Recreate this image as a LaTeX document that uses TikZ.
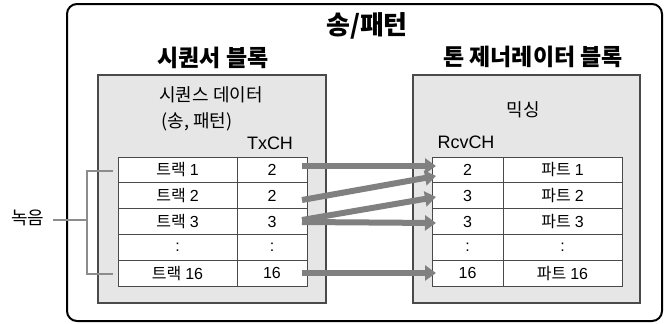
\documentclass[tikz,border=0pt]{standalone}
\usepackage{fontspec}
\setmainfont{Noto Sans CJK KR}
\newfontfamily\lat{Liberation Sans}
\newcommand{\gapnum}[1]{\hspace{4pt}{\lat #1}}
\usetikzlibrary{arrows.meta,calc}
\definecolor{boxgray}{HTML}{E6E6E7}
\definecolor{edgegray}{HTML}{4A4A4A}
\definecolor{arrgray}{HTML}{808080}
\definecolor{brgray}{HTML}{8C8C8C}
\begin{document}
\begin{tikzpicture}[x=1pt,y=-1pt,
  cellbox/.style={draw=edgegray,line width=0.9pt,fill=white,inner sep=0pt,
    minimum height=25.8pt,font=\fontsize{16}{17}\selectfont,anchor=center},
  wide/.style={cellbox,minimum width=119pt},
  narrow/.style={cellbox,minimum width=70pt},
  block/.style={draw=edgegray,line width=1.1pt,fill=boxgray},
  title/.style={font=\bfseries\fontsize{23}{24}\selectfont,inner sep=0pt},
  lbl/.style={font=\fontsize{18}{19}\selectfont,inner sep=0pt},
  bigarrow/.style={draw=arrgray,line width=6pt,-{Triangle[length=11pt,width=15pt]}},
  bracket/.style={draw=brgray,line width=2pt}]
\useasboundingbox (0,0) rectangle (665,324);
% outer frame
\draw[line width=2pt,rounded corners=10pt] (67,4) rectangle (662,321);
\node[title,font=\bfseries\fontsize{26}{27}\selectfont] (song) at (367,26) {송/패턴};
\node[title] (seqt) at (213,58) {시퀀서 블록};
\node[title] (tgt) at (533,57) {톤 제너레이터 블록};
% blocks
\draw[block] (98,75) rectangle (326,303);
\draw[block] (413,75) rectangle (640,303);
\node[lbl] (seqd) at (211,95) {시퀀스 데이터};
\node[lbl] (sp) at (197,122) {(송, 패턴)};
\node[lbl] (tx) at (270,143) {\lat TxCH};
\node[lbl] (mix) at (523,110) {믹싱};
\node[lbl] (rcv) at (466,142) {\lat RcvCH};
% left table
\node[wide]   (L1a) at (177.5,169.9) {트랙\gapnum{1}};
\node[narrow] (L1b) at (272,169.9) {\lat 2};
\node[wide]   (L2a) at (177.5,195.7) {트랙\gapnum{2}};
\node[narrow] (L2b) at (272,195.7) {\lat 2};
\node[wide]   (L3a) at (177.5,221.5) {트랙\gapnum{3}};
\node[narrow] (L3b) at (272,221.5) {\lat 3};
\node[wide]   (L4a) at (177.5,247.3) {\lat :};
\node[narrow] (L4b) at (272,247.3) {\lat :};
\node[wide]   (L5a) at (177.5,273.1) {트랙\gapnum{16}};
\node[narrow] (L5b) at (272,273.1) {\lat 16};
% right table
\node[narrow,minimum width=71pt] (R1a) at (467.5,169.9) {\lat 2};
\node[wide]   (R1b) at (562.5,169.9) {파트\gapnum{1}};
\node[narrow,minimum width=71pt] (R2a) at (467.5,195.7) {\lat 3};
\node[wide]   (R2b) at (562.5,195.7) {파트\gapnum{2}};
\node[narrow,minimum width=71pt] (R3a) at (467.5,221.5) {\lat 3};
\node[wide]   (R3b) at (562.5,221.5) {파트\gapnum{3}};
\node[narrow,minimum width=71pt] (R4a) at (467.5,247.3) {\lat :};
\node[wide]   (R4b) at (562.5,247.3) {\lat :};
\node[narrow,minimum width=71pt] (R5a) at (467.5,273.1) {\lat 16};
\node[wide]   (R5b) at (562.5,273.1) {파트\gapnum{16}};
% arrow ends
\coordinate (a1s) at (302,166);  \coordinate (a1e) at (436,166);
\coordinate (a2s) at (302,200);  \coordinate (a2e) at (436,176);
\coordinate (a3s) at (302,220);  \coordinate (a3e) at (436,197);
\coordinate (a4s) at (302,222);  \coordinate (a4e) at (436,223);
\coordinate (a5s) at (302,273);  \coordinate (a5e) at (436,273);
\draw[bigarrow] (a1s) -- (a1e);
\draw[bigarrow] (a2s) -- (a2e);
\draw[bigarrow] (a3s) -- (a3e);
\draw[bigarrow] (a4s) -- (a4e);
\draw[bigarrow] (a5s) -- (a5e);
% recording bracket
\node[lbl] (rec) at (28,218) {녹음};
\coordinate (bt) at (113,171);
\coordinate (bb) at (113,274);
\coordinate (bm) at (87,220);
\draw[bracket] (bt) -- (87,171) -- (87,274) -- (bb);
\draw[bracket] (53,220) -- (bm);
\end{tikzpicture}
\end{document}
